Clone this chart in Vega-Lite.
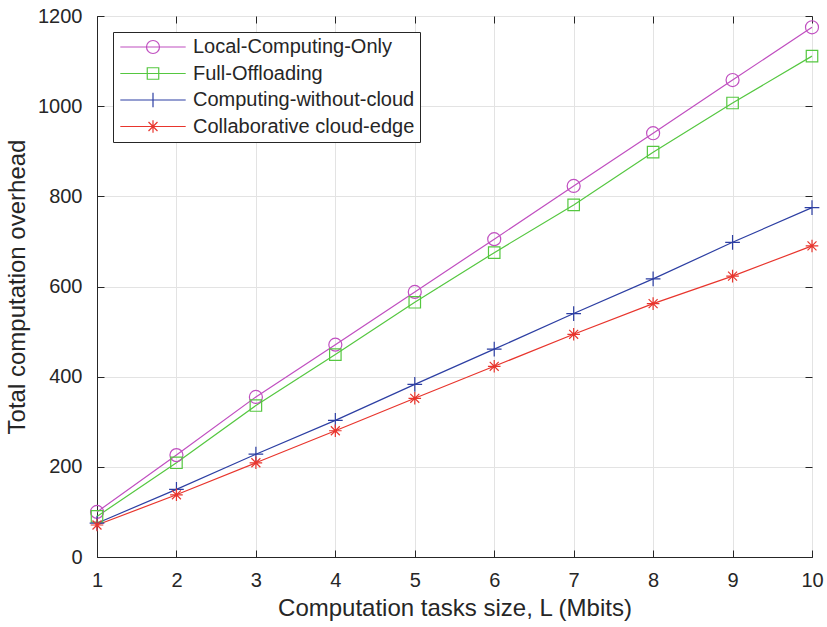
{
  "$schema": "https://vega.github.io/schema/vega-lite/v6.json",
  "width": 715,
  "height": 541,
  "autosize": {"type": "none"},
  "padding": {"left": 97, "top": 16, "right": 15, "bottom": 70},
  "background": "white",
  "config": {
    "font": "Liberation Sans",
    "view": {"stroke": "#262626", "strokeWidth": 1},
    "axis": {
      "domainColor": "#262626",
      "tickColor": "#262626",
      "labelColor": "#262626",
      "titleColor": "#262626",
      "gridColor": "#e3e3e3",
      "gridWidth": 1,
      "labelFont": "Liberation Sans",
      "titleFont": "Liberation Sans",
      "labelFontSize": 20,
      "titleFontSize": 24,
      "titleFontWeight": "normal",
      "tickSize": -7,
      "tickWidth": 1
    },
    "legend": {
      "orient": "none", "legendX": 16, "legendY": 16,
      "padding": 5, "strokeColor": "#262626", "fillColor": "white",
      "labelFont": "Liberation Sans", "labelFontSize": 20, "labelColor": "#262626",
      "symbolSize": 196, "symbolStrokeWidth": 1.2, "symbolOffset": 25, "labelOffset": 30, "rowPadding": 6.5,
      "labelLimit": 400
    }
  },
  "data": {
    "values": [
      {"L": 1, "series": "Local-Computing-Only", "overhead": 100},
      {"L": 2, "series": "Local-Computing-Only", "overhead": 226},
      {"L": 3, "series": "Local-Computing-Only", "overhead": 355},
      {"L": 4, "series": "Local-Computing-Only", "overhead": 471},
      {"L": 5, "series": "Local-Computing-Only", "overhead": 588},
      {"L": 6, "series": "Local-Computing-Only", "overhead": 705},
      {"L": 7, "series": "Local-Computing-Only", "overhead": 823},
      {"L": 8, "series": "Local-Computing-Only", "overhead": 940},
      {"L": 9, "series": "Local-Computing-Only", "overhead": 1058},
      {"L": 10, "series": "Local-Computing-Only", "overhead": 1175},
      {"L": 1, "series": "Full-Offloading", "overhead": 90},
      {"L": 2, "series": "Full-Offloading", "overhead": 209},
      {"L": 3, "series": "Full-Offloading", "overhead": 336},
      {"L": 4, "series": "Full-Offloading", "overhead": 449},
      {"L": 5, "series": "Full-Offloading", "overhead": 565},
      {"L": 6, "series": "Full-Offloading", "overhead": 675},
      {"L": 7, "series": "Full-Offloading", "overhead": 781},
      {"L": 8, "series": "Full-Offloading", "overhead": 898},
      {"L": 9, "series": "Full-Offloading", "overhead": 1007},
      {"L": 10, "series": "Full-Offloading", "overhead": 1111},
      {"L": 1, "series": "Computing-without-cloud", "overhead": 75},
      {"L": 2, "series": "Computing-without-cloud", "overhead": 150},
      {"L": 3, "series": "Computing-without-cloud", "overhead": 228},
      {"L": 4, "series": "Computing-without-cloud", "overhead": 303},
      {"L": 5, "series": "Computing-without-cloud", "overhead": 383},
      {"L": 6, "series": "Computing-without-cloud", "overhead": 461},
      {"L": 7, "series": "Computing-without-cloud", "overhead": 540},
      {"L": 8, "series": "Computing-without-cloud", "overhead": 617},
      {"L": 9, "series": "Computing-without-cloud", "overhead": 698},
      {"L": 10, "series": "Computing-without-cloud", "overhead": 775},
      {"L": 1, "series": "Collaborative cloud-edge", "overhead": 71},
      {"L": 2, "series": "Collaborative cloud-edge", "overhead": 138},
      {"L": 3, "series": "Collaborative cloud-edge", "overhead": 209},
      {"L": 4, "series": "Collaborative cloud-edge", "overhead": 280},
      {"L": 5, "series": "Collaborative cloud-edge", "overhead": 352},
      {"L": 6, "series": "Collaborative cloud-edge", "overhead": 423},
      {"L": 7, "series": "Collaborative cloud-edge", "overhead": 494},
      {"L": 8, "series": "Collaborative cloud-edge", "overhead": 562},
      {"L": 9, "series": "Collaborative cloud-edge", "overhead": 623},
      {"L": 10, "series": "Collaborative cloud-edge", "overhead": 690}
    ]
  },
  "resolve": {"scale": {"color": "independent", "shape": "independent"}},
  "layer": [
    {
      "mark": {"type": "line", "strokeWidth": 1.2},
      "encoding": {
        "x": {
          "field": "L", "type": "quantitative",
          "scale": {"domain": [1, 10], "nice": false, "zero": false},
          "axis": {"orient": "bottom", "values": [1,2,3,4,5,6,7,8,9,10], "title": "Computation tasks size, L (Mbits)", "labelPadding": 20, "titlePadding": 6, "grid": true, "labelFlush": false, "format": "d"}
        },
        "y": {
          "field": "overhead", "type": "quantitative",
          "scale": {"domain": [0, 1200], "nice": false},
          "axis": {"orient": "left", "values": [0,200,400,600,800,1000,1200], "title": "Total computation overhead", "labelPadding": 22, "titlePadding": 8, "grid": true, "labelFlush": false, "format": "d"}
        },
        "color": {
          "field": "series", "type": "nominal",
          "scale": {"domain": ["Local-Computing-Only", "Full-Offloading", "Computing-without-cloud", "Collaborative cloud-edge"], "range": ["#c04fc0", "#55c740", "#2d3fa3", "#e8352d"]},
          "legend": null
        }
      }
    },
    {
      "mark": {"type": "point", "filled": false, "size": 196, "strokeWidth": 1.2, "opacity": 1},
      "encoding": {
        "x": {
          "field": "L", "type": "quantitative",
          "axis": {"orient": "top", "values": [1,2,3,4,5,6,7,8,9,10], "labels": false, "title": null, "grid": false, "domain": false}
        },
        "y": {
          "field": "overhead", "type": "quantitative",
          "axis": {"orient": "right", "values": [0,200,400,600,800,1000,1200], "labels": false, "title": null, "grid": false, "domain": false}
        },
        "color": {
          "field": "series", "type": "nominal",
          "scale": {"domain": ["Local-Computing-Only", "Full-Offloading", "Computing-without-cloud", "Collaborative cloud-edge"], "range": ["#c04fc0", "#55c740", "#2d3fa3", "#e8352d"]},
          "legend": null
        },
        "shape": {
          "field": "series", "type": "nominal",
          "scale": {"domain": ["Local-Computing-Only", "Full-Offloading", "Computing-without-cloud", "Collaborative cloud-edge"], "range": ["M0.93,0A0.93,0.93 0 1,1 -0.93,0A0.93,0.93 0 1,1 0.93,0Z", "M-0.82,-0.82H0.82V0.82H-0.82Z", "M-1.05,0H1.05M0,-1.05V1.05", "M-0.9,0H0.9M0,-0.9V0.9M-0.64,-0.64L0.64,0.64M-0.64,0.64L0.64,-0.64"]},
          "legend": null
        }
      }
    },
    {
      "transform": [{"filter": "false"}],
      "mark": {"type": "point", "filled": false, "size": 196, "strokeWidth": 1.2, "opacity": 1},
      "encoding": {
        "x": {"field": "L", "type": "quantitative", "axis": null},
        "y": {"field": "overhead", "type": "quantitative", "axis": null},
        "color": {
          "field": "series", "type": "nominal",
          "scale": {"domain": ["Local-Computing-Only", "Full-Offloading", "Computing-without-cloud", "Collaborative cloud-edge"], "range": ["#c04fc0", "#55c740", "#2d3fa3", "#e8352d"]},
          "legend": {"title": null}
        },
        "shape": {
          "field": "series", "type": "nominal",
          "scale": {"domain": ["Local-Computing-Only", "Full-Offloading", "Computing-without-cloud", "Collaborative cloud-edge"], "range": ["M-4.67,0H4.67M0.93,0A0.93,0.93 0 1,1 -0.93,0A0.93,0.93 0 1,1 0.93,0Z", "M-4.67,0H4.67M-0.82,-0.82H0.82V0.82H-0.82Z", "M-4.67,0H4.67M0,-1.05V1.05", "M-4.67,0H4.67M-0.9,0H0.9M0,-0.9V0.9M-0.64,-0.64L0.64,0.64M-0.64,0.64L0.64,-0.64"]},
          "legend": {"title": null}
        }
      }
    }
  ]
}
